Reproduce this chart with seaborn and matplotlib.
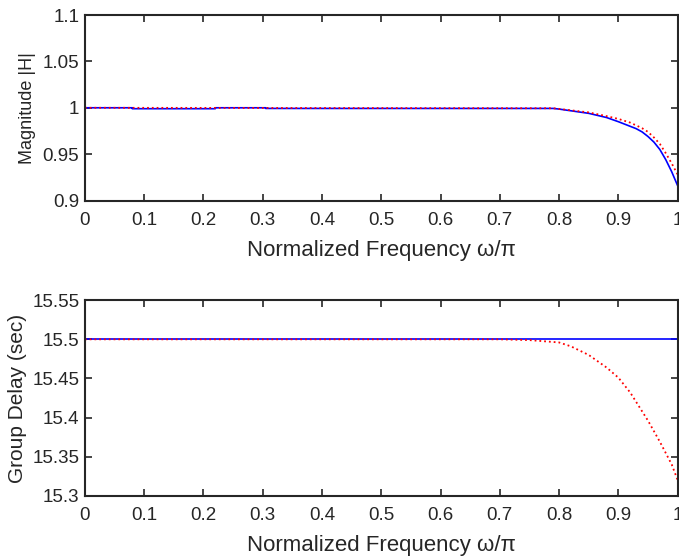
import numpy as np
import pandas as pd
import seaborn as sns
import matplotlib.pyplot as plt

# risposta in ampiezza
freq_mag_blu = [0, 0.08, 0.08, 0.22, 0.22, 0.305, 0.305, 0.79, 0.8, 0.85, 0.88, 0.9, 0.92, 0.93, 0.94, 0.95,
                0.96, 0.97, 0.98, 0.99, 1.0]
mag_blu = [1.0, 1.0, 0.999, 0.999, 1.0, 1.0, 0.9993, 0.9993, 0.9986, 0.994, 0.9895, 0.985, 0.980, 0.9775, 0.974,
           0.969, 0.963, 0.955, 0.944, 0.931, 0.916]
freq_mag_rosso = [0, 0.79, 0.8, 0.85, 0.88, 0.9, 0.92, 0.94, 0.95, 0.96, 0.97, 0.98, 0.99, 1.0]
mag_rosso = [1.0, 0.9995, 0.9988, 0.995, 0.991, 0.988, 0.984, 0.978, 0.974, 0.968, 0.961, 0.951, 0.940, 0.928]

# ritardo di gruppo
freq_gd_blu = [0, 1.0]
gd_blu = [15.5, 15.5]
freq_gd_rosso = [0, 0.7, 0.75, 0.8, 0.82, 0.85, 0.88, 0.9, 0.92, 0.95, 0.97, 0.99, 1.0]
gd_rosso = [15.5, 15.5, 15.499, 15.496, 15.491, 15.480, 15.464, 15.451, 15.432, 15.396, 15.369, 15.340, 15.32]

xtick = [0, 0.1, 0.2, 0.3, 0.4, 0.5, 0.6, 0.7, 0.8, 0.9, 1.0]
xtick_lab = ["0", "0.1", "0.2", "0.3", "0.4", "0.5", "0.6", "0.7", "0.8", "0.9", "1"]
ytick_mag = [0.9, 0.95, 1.0, 1.05, 1.1]
ytick_mag_lab = ["0.9", "0.95", "1", "1.05", "1.1"]
ytick_gd = [15.3, 15.35, 15.4, 15.45, 15.5, 15.55]
ytick_gd_lab = ["15.3", "15.35", "15.4", "15.45", "15.5", "15.55"]

sns.set_style("ticks")
plt.rcParams["font.family"] = ["Liberation Sans", "DejaVu Sans"]
plt.rcParams["xtick.direction"] = "in"
plt.rcParams["ytick.direction"] = "in"
plt.rcParams["xtick.top"] = True
plt.rcParams["ytick.right"] = True

fig = plt.figure(figsize=(6.79, 5.57), dpi=100)
ax1 = fig.add_axes([0.125, 0.640, 0.873, 0.333])
ax2 = fig.add_axes([0.125, 0.110, 0.873, 0.351])

sns.lineplot(x=freq_mag_blu, y=mag_blu, ax=ax1, color="blue", lw=1.2, sort=False, estimator=None)
sns.lineplot(x=freq_mag_rosso, y=mag_rosso, ax=ax1, color="red", lw=1.3, ls=":", sort=False, estimator=None)
sns.lineplot(x=freq_gd_blu, y=gd_blu, ax=ax2, color="blue", lw=1.2, sort=False, estimator=None)
sns.lineplot(x=freq_gd_rosso, y=gd_rosso, ax=ax2, color="red", lw=1.3, ls=":", sort=False, estimator=None)

for ax, yt, ytl, lab, fs, lp in [(ax1, ytick_mag, ytick_mag_lab, "Magnitude |H|", 13, 5),
                                 (ax2, ytick_gd, ytick_gd_lab, "Group Delay (sec)", 15, 4)]:
    ax.set_xlim(0, 1)
    ax.set_ylim(yt[0], yt[-1])
    ax.set_xticks(xtick)
    ax.set_xticklabels(xtick_lab)
    ax.set_yticks(yt)
    ax.set_yticklabels(ytl)
    ax.tick_params(labelsize=13.5, length=5, width=1.2)
    ax.tick_params(axis="x", pad=8)
    ax.tick_params(axis="y", pad=4)
    for s in ax.spines.values():
        s.set_linewidth(1.5)
        s.set_visible(True)
    ax.set_xlabel("Normalized Frequency \u03c9/\u03c0", fontsize=16, labelpad=8)
    ax.set_ylabel(lab, fontsize=fs, labelpad=lp)

fig.savefig("out.png", dpi=100)
